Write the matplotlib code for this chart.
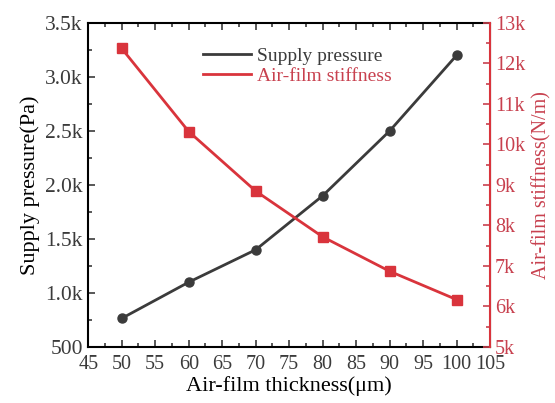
import numpy as np
import matplotlib.pyplot as plt
from matplotlib.ticker import FuncFormatter, MultipleLocator, AutoMinorLocator

plt.rcParams['font.family'] = ['Liberation Serif', 'DejaVu Serif']

# Data
thickness = [50, 60, 70, 80, 90, 100]
supply_pressure = [765, 1100, 1400, 1900, 2500, 3200]
stiffness = [12370, 10320, 8850, 7720, 6870, 6170]

dark = '#3b3b3b'
red = '#d9343c'
red_text = '#c8414f'

fig = plt.figure(figsize=(5.55, 4.03), dpi=100)
ax = fig.add_axes([0.159, 0.139, 0.724, 0.804])
ax2 = ax.twinx()

l1, = ax.plot(thickness, supply_pressure, color=dark, lw=2, marker='o',
              ms=6.5, label='Supply pressure')
l2, = ax2.plot(thickness, stiffness, color=red, lw=2, marker='s',
               ms=6.5, label='Air-film stiffness')

ax.set_xlim(45, 105)
ax.set_ylim(500, 3500)
ax2.set_ylim(5000, 13000)

ax.xaxis.set_major_locator(MultipleLocator(5))
ax.xaxis.set_minor_locator(AutoMinorLocator(2))
ax.yaxis.set_major_locator(MultipleLocator(500))
ax.yaxis.set_minor_locator(AutoMinorLocator(2))
ax2.yaxis.set_major_locator(MultipleLocator(1000))
ax2.yaxis.set_minor_locator(AutoMinorLocator(2))


def kfmt(v, pos):
    if v < 1000:
        return '%d' % v
    return '%.1fk' % (v / 1000)


ax.yaxis.set_major_formatter(FuncFormatter(kfmt))
ax2.yaxis.set_major_formatter(FuncFormatter(lambda v, p: '%dk' % (v / 1000)))

ax.tick_params(axis='both', which='both', direction='in', top=True,
               colors=dark, width=1.2)
ax.tick_params(axis='x', labelsize=14.5, pad=6)
ax.tick_params(axis='y', labelsize=15.5, pad=4)
ax.tick_params(which='major', length=5)
ax.tick_params(which='minor', length=3)
ax2.tick_params(axis='y', which='both', direction='in', labelsize=14.5,
                colors=red_text, width=1.2)
ax2.tick_params(which='major', length=5)
ax2.tick_params(which='minor', length=3)

for s in ['left', 'top', 'bottom']:
    ax.spines[s].set_color('black')
    ax.spines[s].set_linewidth(1.5)
ax2.spines['right'].set_color(red)
ax2.spines['right'].set_linewidth(1.5)
ax2.spines['left'].set_visible(False)
ax2.spines['top'].set_visible(False)
ax2.spines['bottom'].set_visible(False)

ax.set_xlabel('Air-film thickness(\u03bcm)', fontsize=16, color='black',
              labelpad=1)
ax.set_ylabel('Supply pressure(Pa)', fontsize=16, color='black', labelpad=4)
ax2.set_ylabel('Air-film stiffness(N/m)', fontsize=14.5, color=red_text,
               labelpad=5)

leg = ax.legend([l1, l2], ['Supply pressure', 'Air-film stiffness'],
                loc='upper center', bbox_to_anchor=(0.52, 0.98),
                frameon=False, fontsize=14, handlelength=2.5,
                handletextpad=0.3, labelspacing=0.15)
for h in leg.legend_handles:
    h.set_marker('')
leg.get_texts()[0].set_color(dark)
leg.get_texts()[1].set_color(red_text)

fig.savefig('out.png', dpi=100)
